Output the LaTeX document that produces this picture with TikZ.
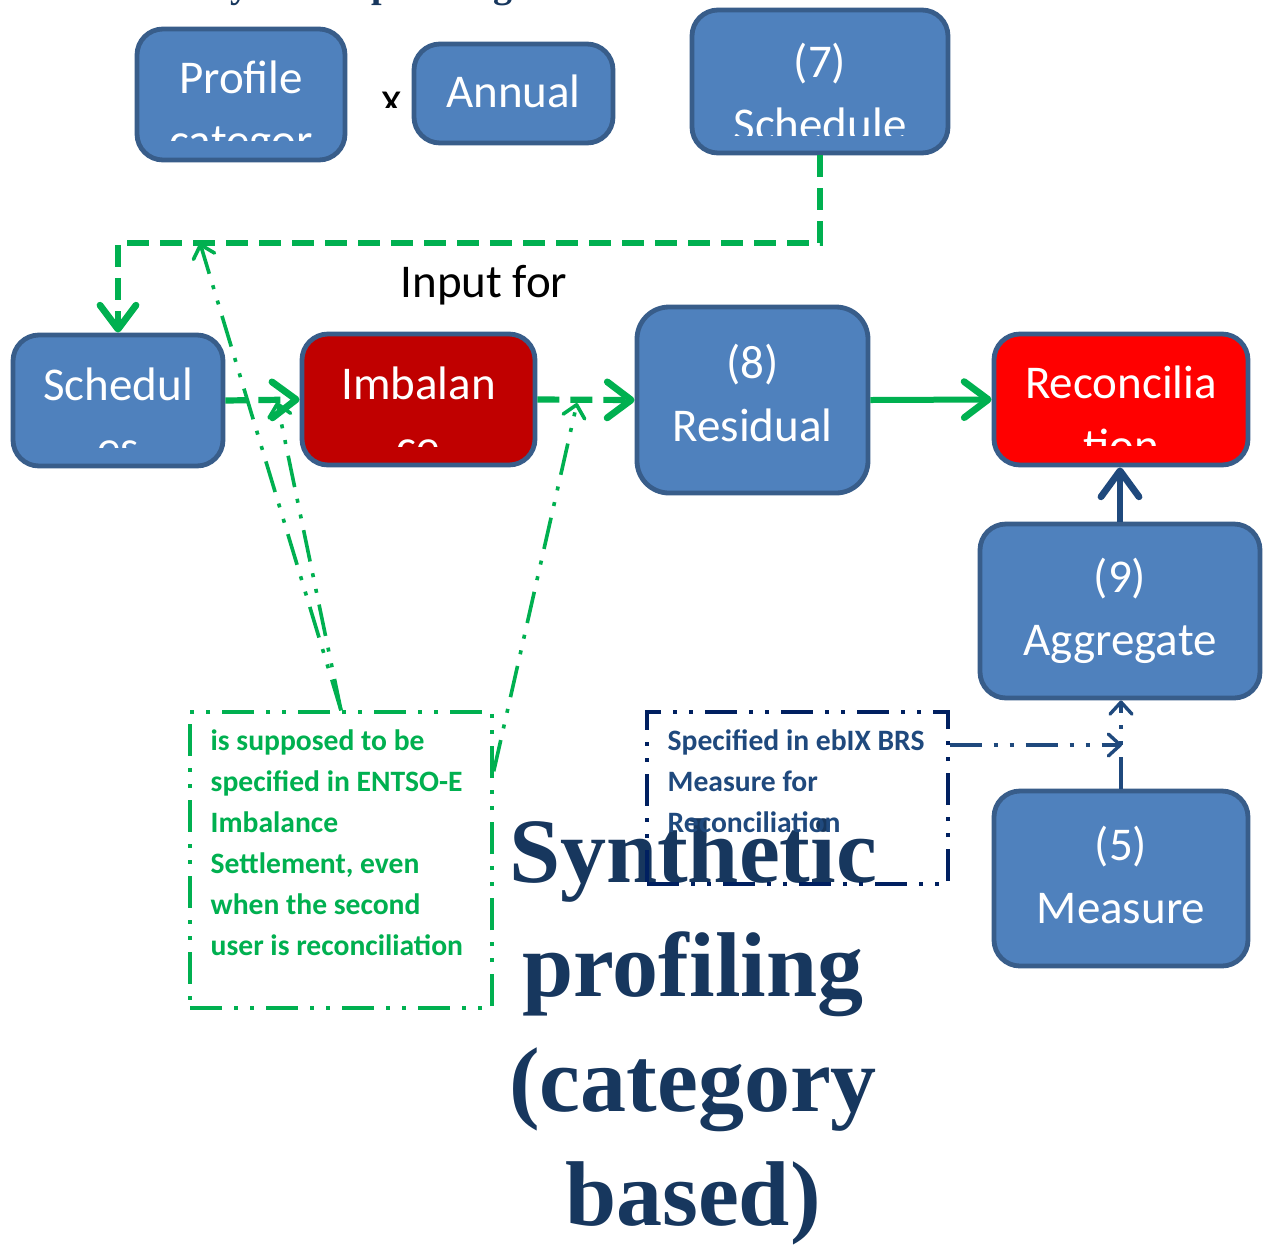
\documentclass[tikz,border=0pt]{standalone}
\usepackage{fontspec}
\setmainfont{Carlito}
\newfontfamily\titlefont{Liberation Serif}
\usetikzlibrary{arrows.meta,calc}
\definecolor{boxblue}{HTML}{4F81BD}
\definecolor{boxedge}{HTML}{385D8A}
\definecolor{imbred}{HTML}{C00000}
\definecolor{recred}{HTML}{FF0000}
\definecolor{ggreen}{HTML}{00B050}
\definecolor{navyline}{HTML}{1F497D}
\definecolor{navyedge}{HTML}{002060}
\definecolor{titleblue}{HTML}{17375E}
\newcommand\twol[2]{\begin{tabular}[t]{@{}c@{}}#1\\#2\end{tabular}}
\begin{document}
\begin{tikzpicture}[x=0.5pt,y=-0.5pt,
  procbox/.style={draw=boxedge, line width=2.4pt, fill=boxblue, rounded corners=13pt, inner sep=0pt},
  boxtext/.style={text=white, font=\fontsize{23.5}{31.5}\selectfont, anchor=base, inner sep=0pt},
  gthick/.style={draw=ggreen, line width=3.1pt, dash pattern=on 11pt off 5.5pt, -{Straight Barb[length=12pt,width=18pt,line width=3.4pt,round]}},
  gsolid/.style={draw=ggreen, line width=3pt, -{Straight Barb[length=12pt,width=18pt,line width=3.4pt,round]}},
  nthick/.style={draw=navyline, line width=3.2pt, -{Straight Barb[length=13pt,width=19pt,line width=3.4pt,round]}},
  ddot/.style={dash pattern=on 16pt off 6pt on 2pt off 6pt on 2pt off 6pt},
  nthin/.style={draw=navyline, line width=1.7pt, ddot, -{Straight Barb[length=6pt,width=11pt,line width=1.7pt,round]}},
  gthin/.style={draw=ggreen, line width=1.8pt, ddot, -{Straight Barb[length=6pt,width=11pt,line width=1.8pt,round]}},
  gnotebox/.style={draw=ggreen, line width=1.7pt, ddot, inner sep=0pt},
  nnotebox/.style={draw=navyedge, line width=1.7pt, ddot, inner sep=0pt},
  notetext/.style={font=\bfseries\fontsize{14.8}{20.5}\selectfont, anchor=base west, inner sep=0pt},
  titletext/.style={text=titleblue, font=\titlefont\bfseries\fontsize{46}{57.25}\selectfont, anchor=base, inner sep=0pt}
]
\fill[white] (0,0) rectangle (1265,1244);
\useasboundingbox (0,0) rectangle (1265,1244);

% clipped heading at the very top
\begin{scope}
  \clip (0,0) rectangle (1265,60);
  \node[titletext, font=\titlefont\bfseries\fontsize{19}{23}\selectfont] (toptitle) at (361,-3) {Synthetic profiling};
\end{scope}

% boxes
\node[procbox, minimum width=104pt, minimum height=65.5pt] (profile) at (241,94.5) {};
\node[procbox, minimum width=99.5pt, minimum height=49.5pt] (annual) at (513.5,93.5) {};
\node[procbox, minimum width=128pt, minimum height=71.5pt] (sched7) at (820,81.5) {};
\node[procbox, minimum width=105pt, minimum height=65.5pt] (schedules) at (118,400.5) {};
\node[procbox, fill=imbred, minimum width=116.5pt, minimum height=65.5pt] (imbal) at (418.5,399.5) {};
\node[procbox, rounded corners=16pt, minimum width=115.5pt, minimum height=93pt] (resid) at (752.5,400) {};
\node[procbox, fill=recred, minimum width=127pt, minimum height=65.5pt] (recon) at (1121,399.5) {};
\node[procbox, minimum width=140pt, minimum height=87pt] (aggr) at (1120,611) {};
\node[procbox, minimum width=127pt, minimum height=87.5pt] (meas) at (1121,878.5) {};

% box texts
\begin{scope}
  \clip (profile.north west) rectangle ($(profile.south east)+(0,-22)$);
  \node[boxtext] (profiletxt) at ($(profile.center)+(0,-1.5)$) {\twol{Profile}{categor}};
\end{scope}
\node[boxtext] (annualtxt) at ($(annual.center)+(0,13.5)$) {Annual};
\begin{scope}
  \clip (sched7.north west) rectangle ($(sched7.south east)+(0,-20)$);
  \node[boxtext] (sched7txt) at ($(sched7.center)+(0,-4.5)$) {\twol{(7)}{Schedule}};
\end{scope}
\begin{scope}
  \clip (schedules.north west) rectangle ($(schedules.south east)+(0,-21)$);
  \node[boxtext] (schedulestxt) at ($(schedules.center)+(0,0)$) {\twol{Schedul}{es}};
\end{scope}
\begin{scope}
  \clip (imbal.north west) rectangle ($(imbal.south east)+(0,-21)$);
  \node[boxtext] (imbaltxt) at ($(imbal.center)+(0,0)$) {\twol{Imbalan}{ce}};
\end{scope}
\node[boxtext] (residtxt) at ($(resid.center)+(0,-22)$) {\twol{(8)}{Residual}};
\begin{scope}
  \clip (recon.north west) rectangle ($(recon.south east)+(0,-22)$);
  \node[boxtext] (recontxt) at ($(recon.center)+(0,-1.5)$) {\twol{Reconcilia}{tion}};
\end{scope}
\node[boxtext] (aggrtxt) at ($(aggr.center)+(0,-19)$) {\twol{(9)}{Aggregate}};
\node[boxtext] (meastxt) at ($(meas.center)+(0,-18.5)$) {\twol{(5)}{Measure}};

% the clipped "x"
\begin{scope}
  \clip (370,80) rectangle (415,107);
  \node[boxtext, text=black] (times) at (392,114.5) {x};
\end{scope}

\node[boxtext, text=black] (inputfor) at (484,297) {Input for};

% big title
\node[titletext] (title) at (693,882) {\begin{tabular}[t]{@{}c@{}}Synthetic\\profiling\\(category\\based)\end{tabular}};

% notes
\node[gnotebox, minimum width=151pt, minimum height=148pt] (gnote) at (341,860) {};
\node[notetext, text=ggreen] (gnotetxt) at ($(gnote.north west)+(22,40)$) {\begin{tabular}[t]{@{}l@{}}is supposed to be\\specified in ENTSO-E\\Imbalance\\Settlement, even\\when the second\\user is reconciliation\end{tabular}};
\node[nnotebox, minimum width=150.5pt, minimum height=86pt] (nnote) at (797.5,798) {};
\node[notetext, text=navyline] (nnotetxt) at ($(nnote.north west)+(22,40)$) {\begin{tabular}[t]{@{}l@{}}Specified in ebIX BRS\\Measure for\\Reconciliation\end{tabular}};

% connectors
\coordinate (bend) at (118,243);
\draw[gthick] (sched7.south) |- (bend) -- (schedules.north);
\draw[gthick] (schedules.east) -- (imbal.west);
\draw[gthick] (imbal.east) -- (resid.west);
\draw[gsolid] (resid.east) -- (recon.west);
\draw[nthick] (aggr.north) -- (aggr.north |- recon.south);
\draw[nthin] (meas.north) -- (meas.north |- aggr.south);

\coordinate (mt) at (1122,745);
\draw[nthin] (nnote.north east |- mt) -- (mt);

\coordinate (t1) at (200,243);
\coordinate (t2) at (277,402);
\coordinate (t3) at (577,403);
\draw[gthin] (gnote.north) -- (t1);
\draw[gthin] (gnote.north) -- (t2);
\draw[gthin] ($(gnote.north east)+(0,61)$) -- (t3);
\end{tikzpicture}
\end{document}
